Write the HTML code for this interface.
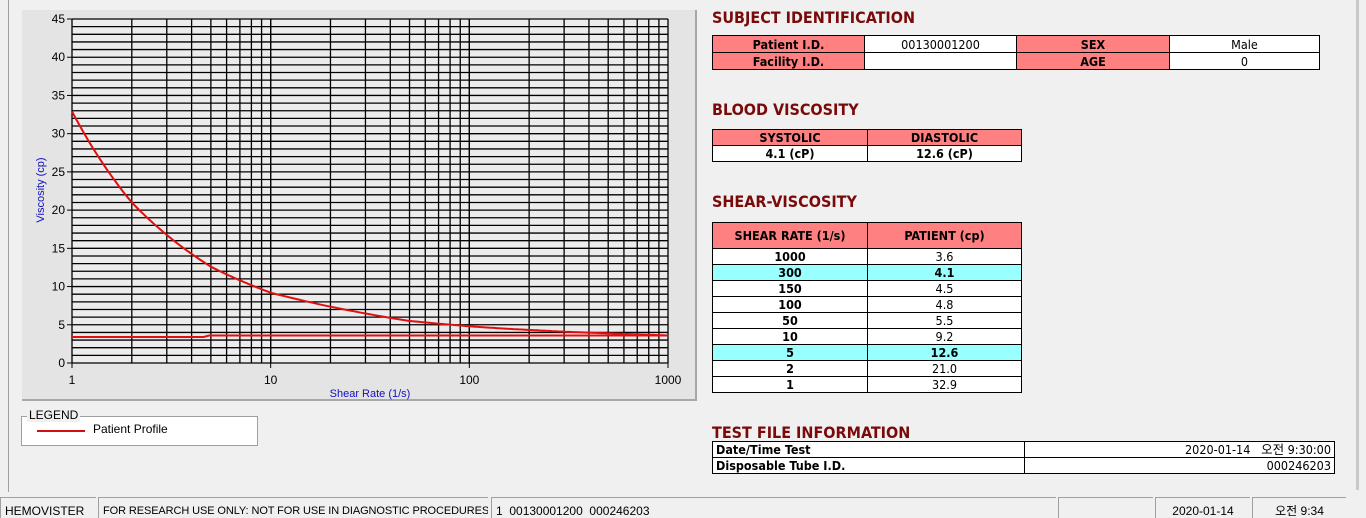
<!DOCTYPE html>
<html><head><meta charset="utf-8">
<style>
html,body{margin:0;width:1366px;height:518px;overflow:hidden;}
body{background:#f0f0f0;position:relative;font-family:"Liberation Sans","Noto Sans CJK KR",sans-serif;}
.abs{position:absolute;}
.h{position:absolute;color:#7a0a0a;font-weight:bold;font-size:16px;font-family:"DejaVu Sans Condensed","Liberation Sans",sans-serif;letter-spacing:0px;}
table{position:absolute;border-collapse:collapse;font-size:12.5px;font-family:"DejaVu Sans Condensed","Liberation Sans",sans-serif;}
td{border:1px solid #000;padding:0;text-align:center;height:15px;line-height:13px;}
.p{background:#ff8080;font-weight:bold;}
.w{background:#fff;}
.c{background:#99ffff;font-weight:bold;}
.b{font-weight:bold;}
.sb{position:absolute;top:497px;height:21px;border-left:1px solid #a0a0a0;border-top:1px solid #a0a0a0;font-size:12px;line-height:26px;padding-left:4px;box-sizing:border-box;white-space:nowrap;overflow:hidden;font-family:"Liberation Sans","Noto Sans CJK KR",sans-serif;}
</style></head><body>
<div class="abs" style="left:8px;top:0;width:1px;height:492px;background:#a0a0a0"></div>
<div class="abs" style="left:1356px;top:0;width:3px;height:490px;background:#c8c8c8"></div>
<div class="abs" style="left:22px;top:10px;width:675px;height:391px;background:#e4e4e4;box-shadow:inset -2px -2px 0 #a8a8a8"></div>
<svg class="abs" style="left:0;top:0" width="700" height="405" id="s">
<text x="44" y="190" transform="rotate(-90 44 190)" text-anchor="middle" font-size="11" fill="#1010c0" font-family="Liberation Sans">Viscosity (cp)</text>
<text x="370" y="397" text-anchor="middle" font-size="11" fill="#1010c0" font-family="Liberation Sans">Shear Rate (1/s)</text>
</svg>
<div class="abs" style="left:21px;top:416px;width:235px;height:28px;border:1px solid #a0a0a0;background:#fff"></div>
<div class="abs" style="left:27px;top:408px;background:#f0f0f0;font-size:12px;padding:0 2px">LEGEND</div>
<div class="abs" style="left:37px;top:430px;width:48px;height:2px;background:#d01010"></div>
<div class="abs" style="left:93px;top:422px;font-size:12px">Patient Profile</div>

<div class="h" style="left:712px;top:8px">SUBJECT IDENTIFICATION</div>
<table style="left:712px;top:35px;width:608px">
<tr><td class="p" style="width:151px;height:16px">Patient I.D.</td><td class="w" style="width:151px">00130001200</td><td class="p" style="width:152px">SEX</td><td class="w">Male</td></tr>
<tr><td class="p" style="height:16px">Facility I.D.</td><td class="w"></td><td class="p">AGE</td><td class="w">0</td></tr>
</table>
<div class="h" style="left:712px;top:100px">BLOOD VISCOSITY</div>
<table style="left:712px;top:129px;width:310px">
<tr><td class="p" style="width:154px">SYSTOLIC</td><td class="p">DIASTOLIC</td></tr>
<tr><td class="w b">4.1 (cP)</td><td class="w b">12.6 (cP)</td></tr>
</table>
<div class="h" style="left:712px;top:192px">SHEAR-VISCOSITY</div>
<table style="left:712px;top:222px;width:310px">
<tr><td class="p" style="width:154px;height:25px">SHEAR RATE (1/s)</td><td class="p">PATIENT (cp)</td></tr>
<tr><td class="w b">1000</td><td class="w">3.6</td></tr>
<tr><td class="c">300</td><td class="c">4.1</td></tr>
<tr><td class="w b">150</td><td class="w">4.5</td></tr>
<tr><td class="w b">100</td><td class="w">4.8</td></tr>
<tr><td class="w b">50</td><td class="w">5.5</td></tr>
<tr><td class="w b">10</td><td class="w">9.2</td></tr>
<tr><td class="c">5</td><td class="c">12.6</td></tr>
<tr><td class="w b">2</td><td class="w">21.0</td></tr>
<tr><td class="w b">1</td><td class="w">32.9</td></tr>
</table>
<div class="h" style="left:712px;top:423px">TEST FILE INFORMATION</div>
<table style="left:712px;top:441px;width:623px">
<tr><td class="w b" style="width:308px;text-align:left;padding-left:3px">Date/Time Test</td><td class="w" style="text-align:right;padding-right:3px;font-family:'DejaVu Sans Condensed','Noto Sans CJK KR',sans-serif">2020-01-14&nbsp;&nbsp;&nbsp;오전 9:30:00</td></tr>
<tr><td class="w b" style="text-align:left;padding-left:3px">Disposable Tube I.D.</td><td class="w" style="text-align:right;padding-right:3px">000246203</td></tr>
</table>

<div class="sb" style="left:0;width:96px">HEMOVISTER</div>
<div class="sb" style="left:98px;width:390px;font-size:11px;letter-spacing:-0.1px">FOR RESEARCH USE ONLY: NOT FOR USE IN DIAGNOSTIC PROCEDURES</div>
<div class="sb" style="left:491px;width:565px">1&nbsp; 00130001200&nbsp; 000246203</div>
<div class="sb" style="left:1058px;width:95px"></div>
<div class="sb" style="left:1155px;width:95px;text-align:center;padding:0">2020-01-14</div>
<div class="sb" style="left:1252px;width:94px;text-align:center;padding:0">오전 9:34</div>

<script>
var s=document.getElementById('s'),NS='http://www.w3.org/2000/svg';
function el(t,a){var e=document.createElementNS(NS,t);for(var k in a)e.setAttribute(k,a[k]);s.appendChild(e);return e;}
var X0=72,X1=668,Y0=363,Y1=19,D=(X1-X0)/3,U=(Y0-Y1)/45;
function X(v){return X0+D*Math.log10(v);}function Y(v){return Y0-v*U;}
el('rect',{x:X0,y:Y1,width:X1-X0,height:Y0-Y1,fill:'#ececec'});
for(var i=0;i<=45;i++)el('line',{x1:X0,x2:X1,y1:Y(i),y2:Y(i),stroke:'#000','stroke-width':1.3});
for(var d=1;d<=100;d*=10)for(var m=1;m<=10;m++){var x=X(d*m);el('line',{x1:x,x2:x,y1:Y1,y2:Y0,stroke:'#000','stroke-width':1.3});}
for(var i=0;i<=45;i+=5){el('line',{x1:X0-5,x2:X0,y1:Y(i),y2:Y(i),stroke:'#000'});var t=el('text',{x:X0-7,y:Y(i)+4,'text-anchor':'end','font-size':12,'font-family':'Liberation Sans'});t.textContent=i;}
[1,10,100,1000].forEach(function(v){el('line',{x1:X(v),x2:X(v),y1:Y0,y2:Y0+5,stroke:'#000'});var t=el('text',{x:X(v),y:Y0+21,'text-anchor':'middle','font-size':12,'font-family':'Liberation Sans'});t.textContent=v;});
var P=[[1,32.9],[2,21],[5,12.6],[10,9.2],[50,5.5],[100,4.8],[150,4.5],[300,4.1],[1000,3.6]],pts=[];
for(var k=0;k<P.length-1;k++){var a=P[k],b=P[k+1];for(var j=0;j<20;j++){var f=j/20,sx=Math.exp(Math.log(a[0])+f*(Math.log(b[0])-Math.log(a[0]))),vy=Math.exp(Math.log(a[1])+f*(Math.log(b[1])-Math.log(a[1])));pts.push(X(sx).toFixed(1)+','+Y(vy).toFixed(1));}}
pts.push(X(1000)+','+Y(3.6));
el('polyline',{points:pts.join(' '),fill:'none',stroke:'#e01010','stroke-width':2});
el('polyline',{points:X0+','+Y(3.4)+' '+X(4.6)+','+Y(3.4)+' '+X(4.9)+','+Y(3.6)+' '+X1+','+Y(3.6),fill:'none',stroke:'#e01010','stroke-width':2});
</script>
</body></html>
